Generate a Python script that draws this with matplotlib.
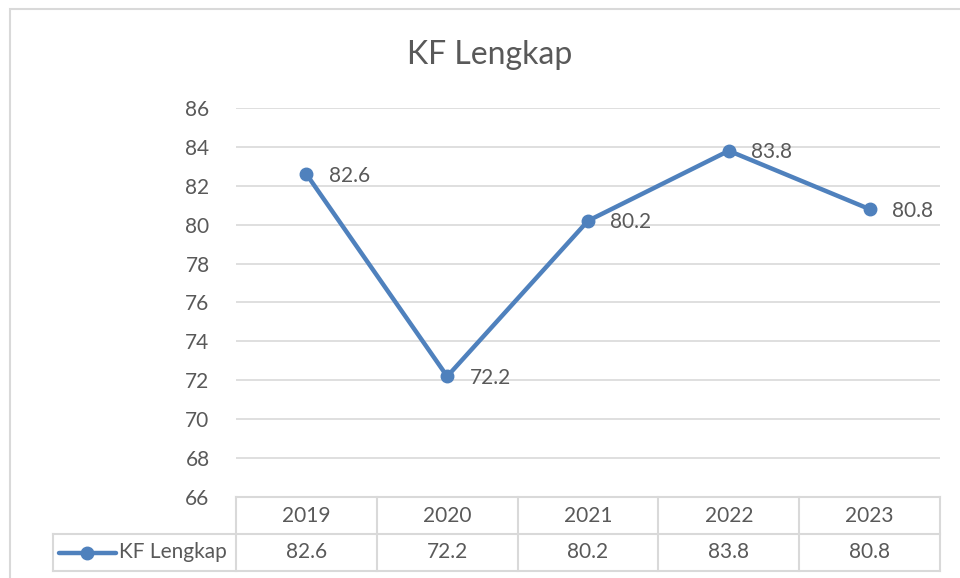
import matplotlib.pyplot as plt
from matplotlib.transforms import blended_transform_factory
from matplotlib.lines import Line2D
from matplotlib.patches import Rectangle

plt.rcParams["font.family"] = ["Lato", "DejaVu Sans"]

years = ["2019", "2020", "2021", "2022", "2023"]
kf_lengkap = [82.6, 72.2, 80.2, 83.8, 80.8]
series_name = "KF Lengkap"
yticks = list(range(66, 87, 2))

LINE_COLOR = "#4F81BD"
GRID = "#D9D9D9"
TEXT = "#595959"
FS = 15

W, H = 960, 578
fig = plt.figure(figsize=(W / 100, H / 100), dpi=100)

# outer chart border
fig.patches.append(Rectangle((10 / W, -0.1), 1.1, (H - 9) / H + 0.1,
                             transform=fig.transFigure, fill=False,
                             edgecolor=GRID, lw=1.5))

left, right, top, bottom = 236, 940, 108, 497
ax = fig.add_axes([left / W, 1 - bottom / H, (right - left) / W, (bottom - top) / H])

x = list(range(len(years)))
ax.plot(x, kf_lengkap, color=LINE_COLOR, lw=3.2, marker="o", ms=9,
        solid_capstyle="round", zorder=3)
for xi, v in zip(x, kf_lengkap):
    ax.annotate(f"{v}", (xi, v), xytext=(16, -1), textcoords="offset points",
                ha="left", va="center", fontsize=FS, color=TEXT)

ax.set_xlim(-0.5, len(years) - 0.5)
ax.set_ylim(66, 86)
ax.set_yticks(yticks)
ax.set_xticks([])
ax.grid(axis="y", color=GRID, lw=1.2)
ax.set_axisbelow(True)
ax.tick_params(axis="y", length=0, labelsize=FS, labelcolor=TEXT, pad=19)
for s in ax.spines.values():
    s.set_visible(False)

fig.text(490 / W, 1 - 55 / H, "KF Lengkap", ha="center", va="center",
         fontsize=23, color=TEXT)

# data table below the plot
tr = blended_transform_factory(ax.transData, ax.transAxes)
axh = bottom - top
r1 = -37 / axh
r2 = -74 / axh
xl = -0.5 - (left - 53) / ((right - left) / len(years))
n = len(years)

def hline(x0, x1, y):
    ax.add_line(Line2D([x0, x1], [y, y], transform=tr, color=GRID, lw=1.5, clip_on=False))

def vline(xx, y0, y1):
    ax.add_line(Line2D([xx, xx], [y0, y1], transform=tr, color=GRID, lw=1.5, clip_on=False))

hline(-0.5, n - 0.5, 0)
hline(xl, n - 0.5, r1)
hline(xl, n - 0.5, r2)
vline(xl, r1, r2)
for i in range(n + 1):
    vline(i - 0.5, 0, r2)

for i, (yr, v) in enumerate(zip(years, kf_lengkap)):
    ax.text(i, r1 / 2, yr, transform=tr, ha="center", va="center",
            fontsize=FS, color=TEXT)
    ax.text(i, (r1 + r2) / 2, f"{v}", transform=tr, ha="center", va="center",
            fontsize=FS, color=TEXT)

# legend key inside the table
ym = (r1 + r2) / 2
ax.add_line(Line2D([xl + 0.04, xl + 0.45], [ym, ym], transform=tr, color=LINE_COLOR,
                   lw=3.2, clip_on=False, solid_capstyle="round"))
ax.add_line(Line2D([xl + 0.245], [ym], transform=tr, color=LINE_COLOR, marker="o",
                   ms=9, clip_on=False))
ax.text(xl + 0.47, ym, series_name, transform=tr, ha="left", va="center",
        fontsize=FS, color=TEXT)

fig.savefig("out.png", dpi=100)
